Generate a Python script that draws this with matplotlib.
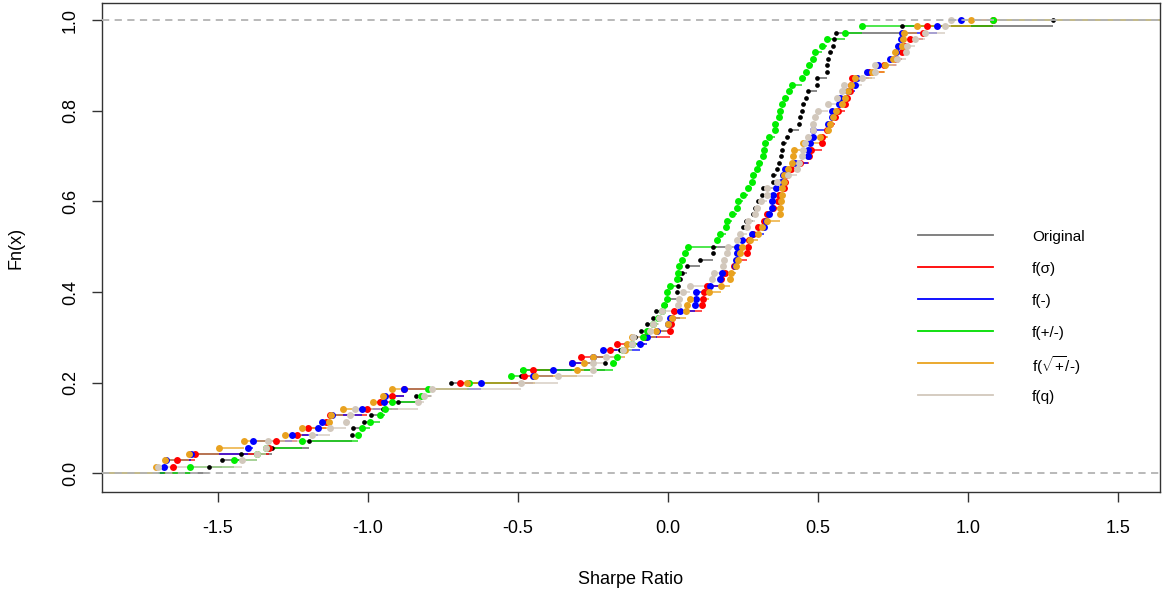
import numpy as np
import matplotlib
matplotlib.use("Agg")
import matplotlib.pyplot as plt

plt.rcParams["font.family"] = ["Liberation Sans", "DejaVu Sans"]
plt.rcParams["mathtext.fontset"] = "custom"
plt.rcParams["mathtext.rm"] = "Liberation Sans"

# Sharpe ratios (70 funds) under each transformation
original = [-1.53, -1.487, -1.423, -1.32, -1.196, -1.054, -1.051, -1.015, -0.99, -0.95,
            -0.90, -0.84, -0.79, -0.723, -0.49, -0.488, -0.21, -0.207, -0.16, -0.14,
            -0.11, -0.09, -0.07, -0.05, -0.04, -0.01, 0.001, 0.031, 0.033, 0.04,
            0.048, 0.064, 0.107, 0.15, 0.151, 0.229, 0.24, 0.251, 0.26, 0.284,
            0.29, 0.301, 0.312, 0.318, 0.349, 0.351, 0.362, 0.37, 0.376, 0.379,
            0.382, 0.396, 0.407, 0.436, 0.44, 0.446, 0.451, 0.46, 0.468, 0.496,
            0.498, 0.529, 0.53, 0.534, 0.54, 0.551, 0.553, 0.56, 0.779, 1.283]
f_sigma = [-1.65, -1.638, -1.577, -1.33, -1.308, -1.238, -1.20, -1.14, -1.127, -1.005,
           -0.96, -0.92, -0.88, -0.693, -0.48, -0.449, -0.32, -0.29, -0.193, -0.169,
           -0.077, 0.005, 0.01, 0.012, 0.021, 0.112, 0.116, 0.12, 0.13, 0.175,
           0.19, 0.22, 0.23, 0.262, 0.265, 0.27, 0.284, 0.30, 0.32, 0.329,
           0.35, 0.365, 0.37, 0.385, 0.39, 0.395, 0.41, 0.44, 0.47, 0.475,
           0.512, 0.512, 0.53, 0.54, 0.555, 0.565, 0.59, 0.595, 0.607, 0.609,
           0.612, 0.67, 0.72, 0.76, 0.78, 0.79, 0.806, 0.85, 0.862, 1.083]
f_minus = [-1.68, -1.675, -1.59, -1.40, -1.382, -1.254, -1.166, -1.155, -1.12, -1.021,
           -0.947, -0.943, -0.88, -0.623, -0.45, -0.382, -0.321, -0.25, -0.216, -0.093,
           -0.071, -0.036, 0.001, 0.005, 0.04, 0.09, 0.092, 0.093, 0.14, 0.173,
           0.179, 0.223, 0.227, 0.229, 0.229, 0.245, 0.28, 0.32, 0.325, 0.338,
           0.345, 0.348, 0.349, 0.36, 0.375, 0.384, 0.39, 0.423, 0.468, 0.468,
           0.473, 0.484, 0.484, 0.534, 0.546, 0.546, 0.571, 0.573, 0.60, 0.623,
           0.63, 0.664, 0.701, 0.74, 0.76, 0.768, 0.775, 0.779, 0.898, 0.977]
f_pm = [-1.593, -1.447, -1.371, -1.34, -1.219, -1.034, -1.02, -0.995, -0.96, -0.943,
        -0.919, -0.824, -0.80, -0.665, -0.523, -0.483, -0.182, -0.171, -0.15, -0.12,
        -0.082, -0.071, -0.049, -0.034, -0.021, -0.013, -0.004, -0.003, 0.005, 0.029,
        0.032, 0.037, 0.048, 0.057, 0.068, 0.164, 0.173, 0.192, 0.198, 0.212,
        0.229, 0.232, 0.251, 0.268, 0.279, 0.284, 0.296, 0.303, 0.318, 0.32,
        0.323, 0.338, 0.357, 0.358, 0.37, 0.373, 0.379, 0.39, 0.403, 0.412,
        0.445, 0.459, 0.47, 0.484, 0.49, 0.512, 0.529, 0.59, 0.645, 1.083]
f_sqrt = [-1.707, -1.677, -1.596, -1.496, -1.415, -1.277, -1.219, -1.131, -1.125, -1.083,
          -0.985, -0.95, -0.92, -0.671, -0.443, -0.302, -0.28, -0.249, -0.143, -0.138,
          -0.121, -0.04, 0.0, 0.012, 0.06, 0.064, 0.073, 0.135, 0.177, 0.207,
          0.209, 0.227, 0.232, 0.24, 0.245, 0.273, 0.301, 0.312, 0.329, 0.373,
          0.373, 0.376, 0.379, 0.379, 0.385, 0.387, 0.40, 0.412, 0.418, 0.42,
          0.449, 0.507, 0.534, 0.54, 0.55, 0.56, 0.58, 0.59, 0.601, 0.61,
          0.623, 0.68, 0.723, 0.751, 0.757, 0.779, 0.782, 0.788, 0.829, 1.01]
f_q = [-1.70, -1.421, -1.37, -1.34, -1.332, -1.188, -1.127, -1.075, -1.06, -1.043,
       -0.833, -0.815, -0.787, -0.49, -0.367, -0.251, -0.249, -0.207, -0.149, -0.12,
       -0.116, -0.06, -0.049, -0.03, -0.02, 0.034, 0.035, 0.049, 0.073, 0.145,
       0.154, 0.182, 0.187, 0.196, 0.201, 0.229, 0.24, 0.262, 0.268, 0.29,
       0.296, 0.31, 0.329, 0.331, 0.362, 0.401, 0.429, 0.435, 0.445, 0.45,
       0.455, 0.468, 0.482, 0.484, 0.49, 0.501, 0.534, 0.562, 0.579, 0.585,
       0.645, 0.69, 0.69, 0.762, 0.793, 0.796, 0.822, 0.857, 0.923, 0.943]

labels = ["Original", "f(σ)", "f(-)", "f(+/-)", r"f($\sqrt{+}$/-)", "f(q)"]
series = [original, f_sigma, f_minus, f_pm, f_sqrt, f_q]
colors = ["black", "#FF0000", "#0000FF", "#00EE00", "#E9A21F", "#D2C8BC"]
line_colors = ["#555555", "#FF0000", "#0000FF", "#00DD00", "#E9A21F", "#D2C8BC"]
msize = [3.4, 5.0, 5.0, 5.0, 5.0, 5.0]

XL = (-1.887, 1.64)
YL = (-0.041, 1.0375)

fig = plt.figure(figsize=(11.63, 5.91), dpi=100)
ax = fig.add_axes([102 / 1163, 1 - 492 / 591, 1058 / 1163, 489 / 591])
ax.set_xlim(*XL)
ax.set_ylim(*YL)

for vals, c, lc, ms in zip(series, colors, line_colors, msize):
    v = np.sort(np.asarray(vals, dtype=float))
    n = len(v)
    F = np.arange(1, n + 1) / n
    left = np.concatenate([[XL[0] - 1], v])
    right = np.concatenate([v, [XL[1] + 1]])
    lev = np.concatenate([[0.0], F])
    ax.hlines(lev, left, right, colors=lc, lw=1.3, alpha=0.75, zorder=2)
    ax.plot(v, F, "o", color=c, markersize=ms, mew=0, zorder=3)

ax.axhline(0, color="#B3B3B3", lw=1.3, ls=(0, (4, 3)), zorder=4)
ax.axhline(1, color="#B3B3B3", lw=1.3, ls=(0, (4, 3)), zorder=4)

ax.set_xticks([-1.5, -1.0, -0.5, 0.0, 0.5, 1.0, 1.5])
ax.set_xticklabels(["-1.5", "-1.0", "-0.5", "0.0", "0.5", "1.0", "1.5"])
ax.set_yticks([0.0, 0.2, 0.4, 0.6, 0.8, 1.0])
ax.set_yticklabels(["0.0", "0.2", "0.4", "0.6", "0.8", "1.0"], rotation=90, va="center")
ax.tick_params(axis="both", labelsize=13, length=7, width=1, color="#333333")
ax.tick_params(axis="x", pad=13.5)
ax.tick_params(axis="y", pad=9.5)
for s in ax.spines.values():
    s.set_linewidth(1)
    s.set_color("#333333")
ax.set_xlabel("Sharpe Ratio", fontsize=13, labelpad=24)
ax.set_ylabel("Fn(x)", fontsize=13, labelpad=27)

# legend drawn by hand at fixed pixel rows, like R's legend without box
leg_rows = [235, 267, 299, 331, 363, 395]
for lab, lc, yr in zip(labels, ["#777777"] + line_colors[1:], leg_rows):
    yf = 1 - yr / 591
    fig.add_artist(plt.Line2D([918 / 1163, 993 / 1163], [yf, yf], color=lc, lw=1.3,
                              transform=fig.transFigure))
    fig.text(1032 / 1163, yf, lab, fontsize=11, ha="left", va="center_baseline")

fig.savefig("out.png", dpi=100)
